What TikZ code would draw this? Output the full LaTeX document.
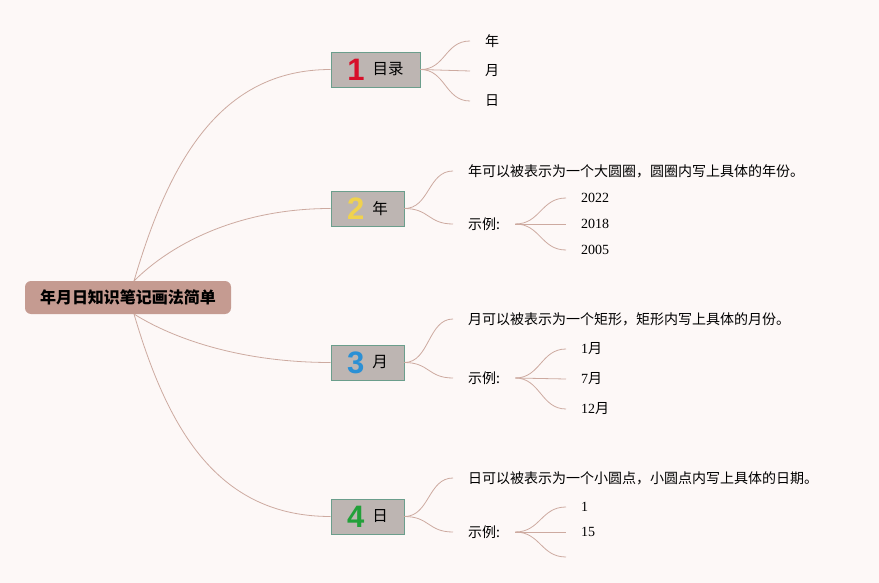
\documentclass[tikz,border=0pt]{standalone}
\usepackage{fontspec}
\setmainfont{Noto Sans CJK SC}
\newfontfamily\numfont{Liberation Serif}
\newfontfamily\badgefont{Liberation Sans}
\definecolor{bgcol}{HTML}{FDF8F7}
\definecolor{rootfill}{HTML}{C59B91}
\definecolor{branchfill}{HTML}{BDB5B2}
\definecolor{branchline}{HTML}{6B9E8C}
\definecolor{conncol}{HTML}{CDAAA0}
\definecolor{bred}{HTML}{D7102A}
\definecolor{byellow}{HTML}{F0D24E}
\definecolor{bblue}{HTML}{2B90D5}
\definecolor{bgreen}{HTML}{22A03A}
\newcommand{\badge}[3]{$\vcenter{\hbox{\badgefont\bfseries\fontsize{31}{31}\selectfont\color{#1}#2}}$\hspace{8pt}$\vcenter{\hbox{#3}}$}
\tikzset{
  rootbox/.style={fill=rootfill, rounded corners=6pt, minimum width=206pt, minimum height=33pt, inner sep=0pt, font=\fontsize{16}{18}\selectfont\bfseries},
  branchbox/.style={fill=branchfill, draw=branchline, line width=0.9pt, minimum height=35pt, inner xsep=0pt, inner ysep=0pt, font=\fontsize{15.5}{18}\selectfont},
  leaf/.style={anchor=west, inner xsep=15pt, inner ysep=2pt, font=\fontsize{14}{16}\selectfont},
  numleaf/.style={leaf, font=\fontsize{14}{16}\selectfont},
  conn/.style={draw=conncol, line width=0.8pt},
}
\begin{document}
\begin{tikzpicture}[x=1pt,y=-1pt]
\fill[bgcol] (0,0) rectangle (879,583);
\useasboundingbox (0,0) rectangle (879,583);

\node[rootbox] (root) at (128,297.5) {年月日知识笔记画法简单};
\coordinate (rtop) at (134,281);
\coordinate (rbot) at (134,314);

\node[branchbox, minimum width=89pt] (n1) at (375.5,69.5) {\badge{bred}{1}{目录}};
\node[branchbox, minimum width=73pt] (n2) at (367.5,208.5) {\badge{byellow}{2}{年}};
\node[branchbox, minimum width=73pt] (n3) at (367.5,362.5) {\badge{bblue}{3}{月}};
\node[branchbox, minimum width=73pt] (n4) at (367.5,516.5) {\badge{bgreen}{4}{日}};

\draw[conn] (rtop) .. controls +(35,-120) and +(-110,0) .. (n1.west);
\draw[conn] (rtop) .. controls +(38,-38) and +(-91,0) .. (n2.west);
\draw[conn] (rbot) .. controls +(38,24) and +(-91,0) .. (n3.west);
\draw[conn] (rbot) .. controls +(35,120) and +(-110,0) .. (n4.west);

% branch 1
\node[leaf] (c11) at (470,41) {年};
\node[leaf] (c12) at (470,71) {月};
\node[leaf] (c13) at (470,101) {日};
\foreach \c in {c11,c12,c13}
  \draw[conn] (n1.east) .. controls +(25,0) and +(-25,0) .. (\c.west);

% branch 2
\node[leaf] (t2) at (453,171) {年可以被表示为一个大圆圈，圆圈内写上具体的年份。};
\node[leaf] (ex2) at (453,224) {示例:};
\node[numleaf] (y1) at (566,198) {\numfont 2022};
\node[numleaf] (y2) at (566,224) {\numfont 2018};
\node[numleaf] (y3) at (566,250) {\numfont 2005};
\foreach \c in {t2,ex2}
  \draw[conn] (n2.east) .. controls +(25,0) and +(-25,0) .. (\c.west);
\foreach \c in {y1,y2,y3}
  \draw[conn] (ex2.east) .. controls +(25,0) and +(-25,0) .. (\c.west);

% branch 3
\node[leaf] (t3) at (453,319) {月可以被表示为一个矩形，矩形内写上具体的月份。};
\node[leaf] (ex3) at (453,378) {示例:};
\node[numleaf] (m1) at (566,349) {{\numfont 1}月};
\node[numleaf] (m2) at (566,379) {{\numfont 7}月};
\node[numleaf] (m3) at (566,409) {{\numfont 12}月};
\foreach \c in {t3,ex3}
  \draw[conn] (n3.east) .. controls +(25,0) and +(-25,0) .. (\c.west);
\foreach \c in {m1,m2,m3}
  \draw[conn] (ex3.east) .. controls +(25,0) and +(-25,0) .. (\c.west);

% branch 4
\node[leaf] (t4) at (453,478) {日可以被表示为一个小圆点，小圆点内写上具体的日期。};
\node[leaf] (ex4) at (453,532) {示例:};
\node[numleaf] (d1) at (566,507) {\numfont 1};
\node[numleaf] (d2) at (566,532) {\numfont 15};
\coordinate (d3) at (566,557);
\foreach \c in {t4,ex4}
  \draw[conn] (n4.east) .. controls +(25,0) and +(-25,0) .. (\c.west);
\foreach \c in {d1,d2}
  \draw[conn] (ex4.east) .. controls +(25,0) and +(-25,0) .. (\c.west);
\draw[conn] (ex4.east) .. controls +(25,0) and +(-25,0) .. (d3);
\end{tikzpicture}
\end{document}
